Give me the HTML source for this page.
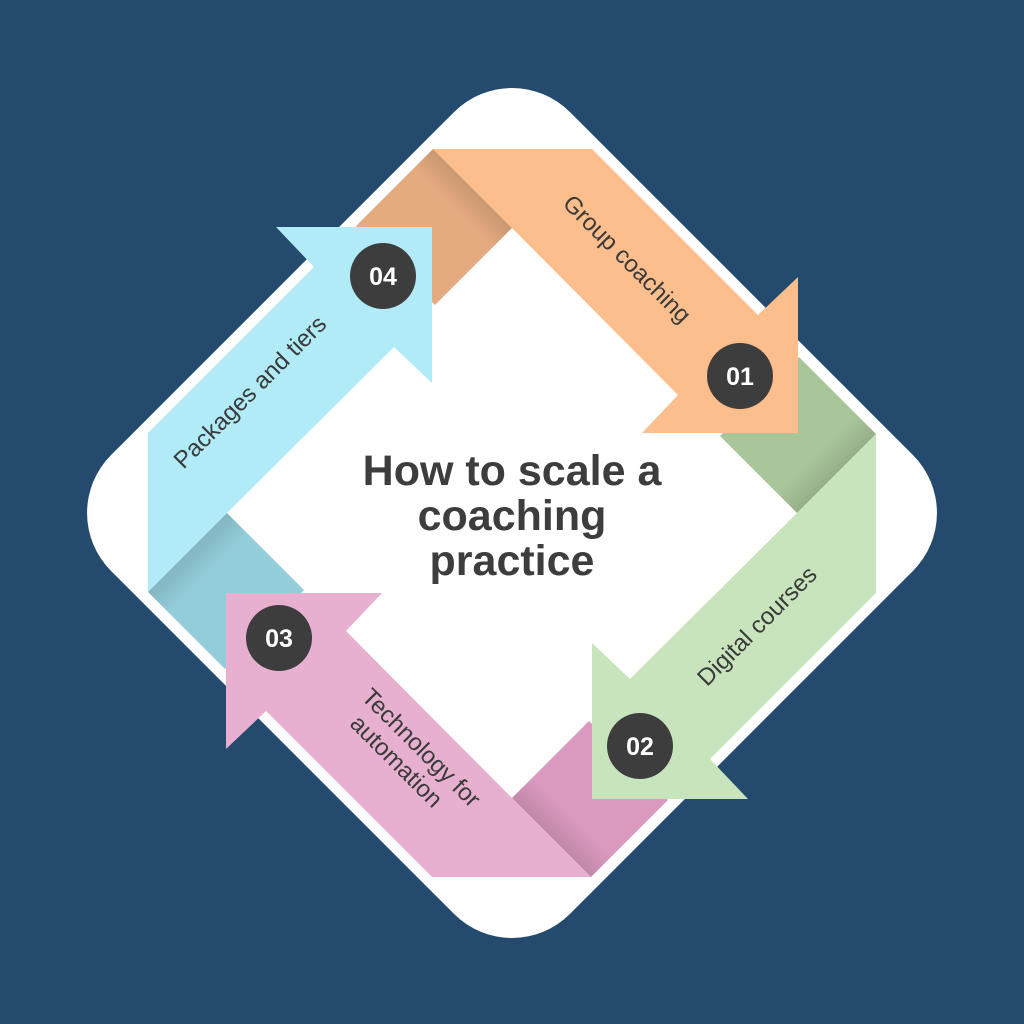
<!DOCTYPE html>
<html><head><meta charset="utf-8"><style>
html,body{margin:0;padding:0;background:#244a6e;}
svg{display:block;}
text{font-family:"Liberation Sans",sans-serif;}
</style></head><body>
<svg width="1024" height="1024" viewBox="0 0 1024 1024" xmlns="http://www.w3.org/2000/svg">
<defs>
<linearGradient id="sh" gradientUnits="userSpaceOnUse" x1="-39" y1="-325" x2="-60" y2="-304">
<stop offset="0" stop-color="#000" stop-opacity="0.12"/>
<stop offset="1" stop-color="#000" stop-opacity="0"/>
</linearGradient>
</defs>
<rect width="1024" height="1024" fill="#244a6e"/>
<g transform="translate(512,513) rotate(45)">
<rect x="-324.5" y="-324.5" width="649" height="649" rx="82" ry="82" fill="#fff"/>
</g>
<g transform="translate(512,513)">
<g><polygon points="-79,-364 0,-285 -77,-208 -156,-287" fill="#e5ab80"/><polygon points="-79,-364 0,-285 -77,-208 -156,-287" fill="url(#sh)"/></g>
<g transform="rotate(90)"><polygon points="-79,-364 0,-285 -77,-208 -156,-287" fill="#a9c69b"/><polygon points="-79,-364 0,-285 -77,-208 -156,-287" fill="url(#sh)"/></g>
<g transform="rotate(180)"><polygon points="-79,-364 0,-285 -77,-208 -156,-287" fill="#da99bf"/><polygon points="-79,-364 0,-285 -77,-208 -156,-287" fill="url(#sh)"/></g>
<g transform="rotate(270)"><polygon points="-79,-364 0,-285 -77,-208 -156,-287" fill="#93cdd9"/><polygon points="-79,-364 0,-285 -77,-208 -156,-287" fill="url(#sh)"/></g>
<polygon points="-79,-364 80,-364 246,-198 286,-236 286,-80 130,-80 166,-118 0,-285" fill="#fdbe8d"/>
<polygon transform="rotate(90)" points="-79,-364 80,-364 246,-198 286,-236 286,-80 130,-80 166,-118 0,-285" fill="#c8e4bd"/>
<polygon transform="rotate(180)" points="-79,-364 80,-364 246,-198 286,-236 286,-80 130,-80 166,-118 0,-285" fill="#e7b0d0"/>
<polygon transform="rotate(270)" points="-79,-364 80,-364 246,-198 286,-236 286,-80 130,-80 166,-118 0,-285" fill="#b0ebf7"/>
</g>
<g fill="#3d3d3d">
<circle cx="740" cy="376" r="33"/>
<circle cx="640" cy="746" r="33"/>
<circle cx="279" cy="638" r="33"/>
<circle cx="383" cy="276" r="33"/>
</g>
<g fill="#fff" font-weight="bold" font-size="25" text-anchor="middle">
<text x="740" y="385">01</text>
<text x="640" y="755">02</text>
<text x="279" y="647">03</text>
<text x="383" y="285">04</text>
</g>
<g fill="#3a3a3a" font-size="24" text-anchor="middle">
<text transform="translate(627,259) rotate(45)" y="8">Group coaching</text>
<text transform="translate(757,626) rotate(-45)" y="8">Digital courses</text>
<text transform="translate(250,392) rotate(-45)" y="8">Packages and tiers</text>
<g transform="translate(412,757) rotate(45)">
<text x="0" y="-5">Technology for</text>
<text x="-8" y="22">automation</text>
</g>
</g>
<g fill="#3d3d3d" font-weight="bold" font-size="43" text-anchor="middle">
<text x="512" y="485">How to scale a</text>
<text x="512" y="530">coaching</text>
<text x="512" y="575">practice</text>
</g>
</svg>
</body></html>
